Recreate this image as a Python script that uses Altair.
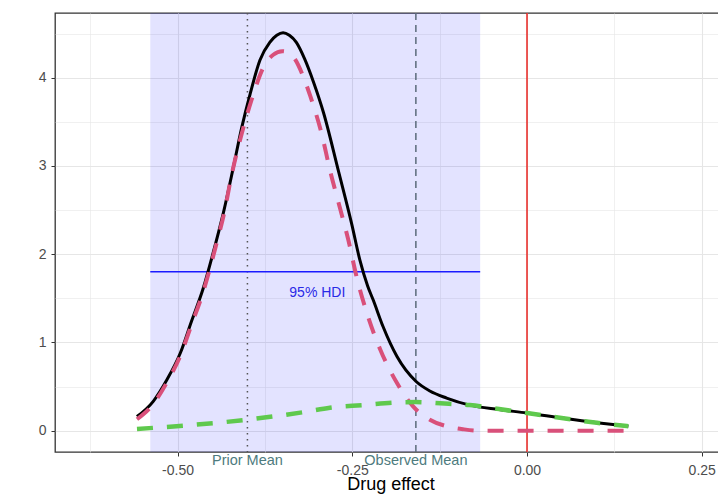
import altair as alt
import pandas as pd

# Posterior (black solid)
post_x = [-0.558, -0.535, -0.515, -0.496, -0.480, -0.463, -0.4506, -0.4335, -0.420, -0.408,
          -0.396, -0.382, -0.368, -0.358, -0.349, -0.340, -0.330, -0.318, -0.305, -0.291,
          -0.270, -0.251, -0.239, -0.228, -0.220, -0.206, -0.186, -0.159, -0.139, -0.115,
          -0.082, -0.040, 0.000, 0.052, 0.100, 0.145]
post_y = [0.16, 0.33, 0.58, 0.88, 1.24, 1.62, 1.97, 2.50, 2.99, 3.44,
          3.82, 4.20, 4.40, 4.48, 4.51, 4.48, 4.40, 4.21, 3.94, 3.60,
          2.95, 2.35, 1.93, 1.64, 1.48, 1.18, 0.84, 0.56, 0.45, 0.37,
          0.29, 0.24, 0.20, 0.14, 0.09, 0.05]

# Prior component (red dashed)
red_x = [-0.558, -0.535, -0.515, -0.496, -0.480, -0.463, -0.4456, -0.4335, -0.422, -0.408,
         -0.394, -0.377, -0.363, -0.350, -0.340, -0.332, -0.321, -0.310, -0.294, -0.2818,
         -0.2675, -0.2556, -0.2437, -0.229, -0.210, -0.186, -0.163, -0.139, -0.115, -0.090,
         -0.067, 0.000, 0.145]
red_y = [0.13, 0.30, 0.55, 0.85, 1.20, 1.58, 2.08, 2.46, 2.92, 3.37,
         3.75, 4.12, 4.26, 4.30, 4.28, 4.21, 4.03, 3.79, 3.37, 2.95,
         2.52, 2.16, 1.74, 1.33, 0.92, 0.54, 0.275, 0.125, 0.05, 0.015,
         0.0, 0.0, 0.0]

# Likelihood (green dashed)
green_x = [-0.558, -0.487, -0.400, -0.320, -0.282, -0.234, -0.186, -0.159, -0.124, -0.082,
           -0.040, 0.000, 0.052, 0.100, 0.145]
green_y = [0.02, 0.06, 0.125, 0.21, 0.26, 0.29, 0.32, 0.325, 0.31, 0.29,
           0.245, 0.20, 0.14, 0.09, 0.05]

hdi_low, hdi_high, hdi_level = -0.539, -0.067, 1.80
prior_mean = -0.400
observed_mean = -0.159
null_value = 0.0

x_values = [-0.625, -0.5, -0.375, -0.25, -0.125, 0.0, 0.125, 0.25]
y_values = [0, 0.5, 1, 1.5, 2, 2.5, 3, 3.5, 4, 4.5]

x_dom = [-0.6753, 0.2847]
y_dom = [-0.2414, 4.733]

FONT = "Liberation Sans"
major_x = "abs(datum.value*4 - round(datum.value*4)) < 0.001"
major_y = "abs(datum.value - round(datum.value)) < 0.001"

xaxis = alt.Axis(
    values=x_values,
    labelExpr="(" + major_x + ") ? replace(format(datum.value, '.2f'), '\u2212', '-') : ''",
    tickOpacity={"condition": {"test": major_x, "value": 1}, "value": 0},
    gridWidth={"condition": {"test": major_x, "value": 1.1}, "value": 0.6},
    gridColor="#e6e6e6",
    domain=False,
    tickColor="#333333", tickSize=4, tickWidth=1,
    labelColor="#4d4d4d", labelFontSize=14, labelFont=FONT, labelPadding=7,
    title="Drug effect", titleFont=FONT, titleFontSize=18, titleFontWeight="normal",
    titleColor="#000000", titleBaseline="alphabetic", titleY=37,
)
yaxis = alt.Axis(
    values=y_values,
    labelExpr="(" + major_y + ") ? format(datum.value, 'd') : ''",
    tickOpacity={"condition": {"test": major_y, "value": 1}, "value": 0},
    gridWidth={"condition": {"test": major_y, "value": 1.1}, "value": 0.6},
    gridColor="#e6e6e6",
    domain=False,
    tickColor="#333333", tickSize=4, tickWidth=1,
    labelColor="#4d4d4d", labelFontSize=14, labelFont=FONT, labelPadding=5,
    title=None,
)

xs = alt.Scale(domain=x_dom, nice=False, zero=False)
ys = alt.Scale(domain=y_dom, nice=False, zero=False)

post_df = pd.DataFrame({"x": post_x, "y": post_y})
red_df = pd.DataFrame({"x": red_x, "y": red_y})
green_df = pd.DataFrame({"x": green_x, "y": green_y})
hdi_df = pd.DataFrame({"x": [hdi_low], "x2": [hdi_high], "y": [hdi_level]})
vl_df = pd.DataFrame({"x": [prior_mean, observed_mean, null_value]})
lab_df = pd.DataFrame({"x": [prior_mean, observed_mean], "label": ["Prior Mean", "Observed Mean"]})

base_axes = alt.Chart(post_df).mark_line(opacity=0).encode(
    x=alt.X("x:Q", scale=xs, axis=xaxis),
    y=alt.Y("y:Q", scale=ys, axis=yaxis),
)

rect = alt.Chart(hdi_df).mark_rect(color="#0000ff", opacity=0.11).encode(
    x=alt.X("x:Q", scale=xs), x2="x2:Q"
)

prior_line = alt.Chart(vl_df.iloc[[0]]).mark_rule(color="#555555", strokeWidth=1.5, strokeDash=[1.5, 4.5]).encode(
    x=alt.X("x:Q", scale=xs)
)
obs_line = alt.Chart(vl_df.iloc[[1]]).mark_rule(color="#5b6b7b", strokeWidth=1.5, strokeDash=[7, 5]).encode(
    x=alt.X("x:Q", scale=xs)
)
null_line = alt.Chart(vl_df.iloc[[2]]).mark_rule(color="#e8231f", strokeWidth=1.5).encode(
    x=alt.X("x:Q", scale=xs)
)

hdi_line = alt.Chart(hdi_df).mark_rule(color="#1a1aff", strokeWidth=1.5).encode(
    x=alt.X("x:Q", scale=xs), x2="x2:Q", y=alt.Y("y:Q", scale=ys)
)
hdi_text = alt.Chart(pd.DataFrame({"x": [-0.300], "y": [1.56], "t": ["95% HDI"]})).mark_text(
    color="#2a2ae6", fontSize=14, font=FONT
).encode(x=alt.X("x:Q", scale=xs), y=alt.Y("y:Q", scale=ys), text="t:N")

post_line = alt.Chart(post_df).mark_line(color="#000000", strokeWidth=3, interpolate="monotone").encode(
    x=alt.X("x:Q", scale=xs), y=alt.Y("y:Q", scale=ys)
)
red_line = alt.Chart(red_df).mark_line(color="#d9507a", strokeWidth=4, strokeDash=[16, 14],
                                       interpolate="monotone").encode(
    x=alt.X("x:Q", scale=xs), y=alt.Y("y:Q", scale=ys)
)
green_line = alt.Chart(green_df).mark_line(color="#5fc94d", strokeWidth=4.5, strokeDash=[16, 14],
                                           interpolate="monotone").encode(
    x=alt.X("x:Q", scale=xs), y=alt.Y("y:Q", scale=ys)
)

labels = alt.Chart(lab_df).mark_text(
    color="#4e7b7e", fontSize=14.5, font=FONT, baseline="alphabetic"
).encode(
    x=alt.X("x:Q", scale=xs), y=alt.value(452), text="label:N"
)

chart = alt.layer(
    base_axes, rect, prior_line, obs_line, null_line, hdi_line, hdi_text,
    post_line, red_line, green_line, labels
).properties(
    width=671, height=439,
    padding={"left": 47, "top": 5, "right": -8, "bottom": 42},
    autosize=alt.AutoSizeParams(type="none"),
).configure_view(stroke="#333333", strokeWidth=1.3)

chart.save("out.html", embed_options={"renderer": "svg", "actions": False})
